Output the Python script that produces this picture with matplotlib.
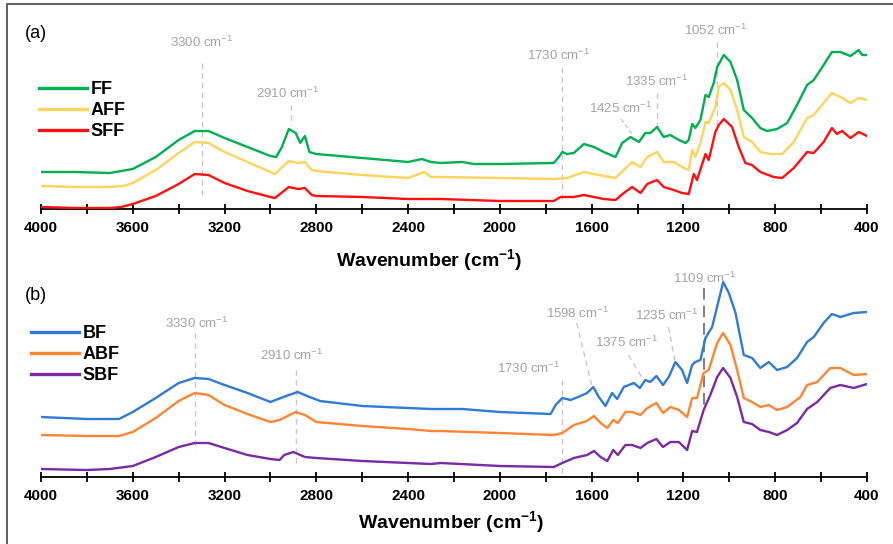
import numpy as np
import matplotlib
matplotlib.use("Agg")
import matplotlib.pyplot as plt
from matplotlib.ticker import MultipleLocator
from matplotlib.patches import Rectangle

plt.rcParams['font.family'] = ['Liberation Sans', 'DejaVu Sans']
plt.rcParams['mathtext.fontset'] = 'custom'
plt.rcParams['mathtext.rm'] = 'Liberation Sans'
plt.rcParams['mathtext.bf'] = 'Liberation Sans:bold'
plt.rcParams['lines.solid_joinstyle'] = 'round'

# ---- panel (a): fibres FF / AFF / SFF (absorbance, a.u., offset) ----
wn_FF = [4000, 3850, 3700, 3600, 3500, 3400, 3330, 3270, 3200, 3100, 3000, 2975, 2950,
         2920, 2890, 2870, 2850, 2830, 2800, 2600, 2400, 2340, 2300, 2258, 2164, 2113,
         2000, 1765, 1743, 1728, 1707, 1678, 1634, 1590, 1547, 1496, 1467, 1431, 1394,
         1366, 1344, 1315, 1286, 1257, 1220, 1191, 1177, 1162, 1148, 1126, 1104, 1090,
         1068, 1053, 1024, 995, 966, 937, 901, 865, 836, 792, 748, 705, 661, 632, 589,
         553, 516, 472, 436, 421, 400]
FF = [0.37, 0.37, 0.36, 0.40, 0.52, 0.69, 0.78, 0.78, 0.71, 0.62, 0.53, 0.52, 0.62,
      0.80, 0.76, 0.66, 0.73, 0.57, 0.55, 0.51, 0.47, 0.50, 0.47, 0.46, 0.47, 0.45,
      0.45, 0.46, 0.52, 0.57, 0.55, 0.56, 0.65, 0.62, 0.57, 0.52, 0.66, 0.72, 0.67,
      0.76, 0.76, 0.82, 0.72, 0.74, 0.69, 0.66, 0.69, 0.85, 0.81, 0.89, 1.14, 1.12,
      1.26, 1.42, 1.54, 1.47, 1.29, 0.99, 0.91, 0.81, 0.78, 0.80, 0.86, 1.04, 1.24,
      1.29, 1.44, 1.57, 1.57, 1.53, 1.59, 1.54, 1.54]

wn_AFF = [4000, 3850, 3700, 3640, 3600, 3500, 3400, 3330, 3270, 3200, 3100, 3000, 2980,
          2920, 2880, 2850, 2820, 2800, 2600, 2400, 2330, 2300, 2258, 2000, 1765, 1707,
          1634, 1547, 1496, 1424, 1387, 1358, 1315, 1286, 1242, 1199, 1177, 1162, 1148,
          1126, 1104, 1090, 1061, 1046, 1024, 995, 966, 937, 901, 865, 821, 770, 719,
          661, 632, 589, 553, 516, 472, 436, 400]
AFF = [0.23, 0.22, 0.22, 0.23, 0.26, 0.39, 0.56, 0.67, 0.66, 0.57, 0.47, 0.37, 0.35,
       0.48, 0.46, 0.47, 0.39, 0.38, 0.34, 0.31, 0.37, 0.32, 0.32, 0.31, 0.30, 0.31,
       0.37, 0.33, 0.31, 0.47, 0.42, 0.52, 0.57, 0.47, 0.47, 0.41, 0.39, 0.59, 0.52,
       0.66, 0.87, 0.86, 1.02, 1.22, 1.26, 1.19, 0.99, 0.72, 0.67, 0.57, 0.55, 0.55,
       0.67, 0.91, 0.94, 1.06, 1.16, 1.12, 1.06, 1.11, 1.09]

wn_SFF = [4000, 3850, 3700, 3650, 3600, 3500, 3400, 3330, 3270, 3200, 3100, 3000, 2980,
          2920, 2880, 2850, 2820, 2800, 2600, 2400, 2300, 2258, 2000, 1765, 1736, 1678,
          1634, 1547, 1496, 1460, 1424, 1387, 1358, 1315, 1286, 1242, 1206, 1177, 1155,
          1141, 1104, 1090, 1061, 1046, 1024, 988, 959, 930, 901, 865, 807, 770, 719,
          661, 632, 589, 553, 531, 509, 472, 436, 400]
SFF = [0.02, 0.01, 0.01, 0.02, 0.05, 0.13, 0.25, 0.35, 0.34, 0.26, 0.18, 0.12, 0.11,
       0.22, 0.20, 0.21, 0.14, 0.13, 0.12, 0.10, 0.10, 0.10, 0.08, 0.08, 0.12, 0.12,
       0.14, 0.10, 0.09, 0.16, 0.22, 0.16, 0.25, 0.29, 0.22, 0.19, 0.16, 0.15, 0.35,
       0.29, 0.55, 0.49, 0.77, 0.84, 0.90, 0.82, 0.62, 0.46, 0.44, 0.37, 0.32, 0.31,
       0.41, 0.57, 0.56, 0.67, 0.81, 0.75, 0.78, 0.71, 0.77, 0.73]

# ---- panel (b): fibres BF / ABF / SBF ----
wn_BF = [4000, 3800, 3660, 3600, 3500, 3400, 3330, 3270, 3200, 3100, 3000, 2944, 2881,
         2840, 2784, 2600, 2400, 2300, 2258, 2164, 2000, 1779, 1757, 1728, 1692, 1649,
         1620, 1593, 1569, 1540, 1511, 1489, 1460, 1438, 1416, 1390, 1366, 1344, 1318,
         1289, 1264, 1235, 1206, 1184, 1162, 1148, 1126, 1104, 1075, 1046, 1027, 1002,
         973, 937, 901, 865, 828, 792, 748, 705, 661, 632, 589, 553, 516, 458, 400]
BF = [0.60, 0.58, 0.58, 0.65, 0.79, 0.94, 0.99, 0.98, 0.92, 0.84, 0.75, 0.80, 0.85,
      0.81, 0.76, 0.71, 0.69, 0.68, 0.68, 0.68, 0.65, 0.63, 0.72, 0.79, 0.77, 0.81,
      0.84, 0.90, 0.80, 0.71, 0.84, 0.78, 0.90, 0.92, 0.94, 0.89, 0.97, 0.95, 1.01,
      0.92, 1.00, 1.15, 1.07, 0.94, 1.12, 1.15, 1.17, 1.39, 1.50, 1.77, 1.95, 1.84,
      1.64, 1.22, 1.19, 1.09, 1.15, 1.07, 1.10, 1.19, 1.35, 1.40, 1.54, 1.63, 1.60,
      1.64, 1.65]

wn_ABF = [4000, 3800, 3660, 3600, 3500, 3400, 3330, 3270, 3200, 3100, 3000, 2960, 2890,
          2850, 2800, 2600, 2400, 2300, 2258, 2000, 1765, 1728, 1678, 1620, 1590, 1561,
          1532, 1506, 1486, 1453, 1424, 1387, 1358, 1318, 1289, 1257, 1220, 1184, 1162,
          1141, 1112, 1090, 1053, 1027, 995, 966, 937, 901, 865, 828, 792, 748, 690,
          661, 617, 560, 516, 458, 400]
ABF = [0.42, 0.41, 0.41, 0.45, 0.59, 0.76, 0.84, 0.82, 0.72, 0.63, 0.55, 0.57, 0.65,
       0.62, 0.55, 0.51, 0.48, 0.46, 0.46, 0.44, 0.42, 0.44, 0.52, 0.56, 0.61, 0.54,
       0.49, 0.57, 0.54, 0.65, 0.65, 0.62, 0.69, 0.74, 0.64, 0.70, 0.67, 0.60, 0.79,
       0.79, 1.04, 1.07, 1.34, 1.44, 1.32, 1.07, 0.79, 0.75, 0.70, 0.72, 0.67, 0.70,
       0.80, 0.92, 0.95, 1.09, 1.09, 1.02, 1.03]

wn_SBF = [4000, 3800, 3700, 3600, 3500, 3400, 3330, 3270, 3200, 3100, 3000, 2960, 2940,
          2900, 2850, 2800, 2600, 2400, 2300, 2258, 2000, 1765, 1728, 1678, 1620, 1590,
          1561, 1532, 1506, 1486, 1453, 1424, 1387, 1358, 1318, 1289, 1257, 1220, 1184,
          1162, 1141, 1112, 1083, 1053, 1027, 995, 966, 937, 901, 865, 828, 792, 748,
          705, 661, 617, 560, 516, 458, 400]
SBF = [0.08, 0.07, 0.08, 0.11, 0.20, 0.30, 0.34, 0.34, 0.29, 0.22, 0.18, 0.17, 0.22,
       0.25, 0.20, 0.19, 0.16, 0.14, 0.13, 0.14, 0.11, 0.10, 0.14, 0.19, 0.22, 0.26,
       0.20, 0.16, 0.27, 0.22, 0.32, 0.32, 0.29, 0.34, 0.38, 0.30, 0.35, 0.35, 0.27,
       0.46, 0.45, 0.67, 0.82, 1.00, 1.09, 0.99, 0.80, 0.55, 0.53, 0.47, 0.45, 0.42,
       0.47, 0.54, 0.68, 0.75, 0.89, 0.92, 0.89, 0.93]

xticks = [4000, 3600, 3200, 2800, 2400, 2000, 1600, 1200, 800, 400]

GRAY_TXT = '#a3a3a3'
GRAY_LN = '#c9c9c9'


def style_axis(ax, label_x, label_y):
    ax.set_xlim(4000, 400)
    ax.set_ylim(0, 2.0)
    for s in ['top', 'left', 'right']:
        ax.spines[s].set_visible(False)
    ax.spines['bottom'].set_linewidth(1.3)
    ax.set_yticks([])
    ax.set_xticks(xticks)
    ax.xaxis.set_minor_locator(MultipleLocator(200))
    ax.tick_params(axis='x', which='both', direction='inout', length=7, width=1.3)
    ax.tick_params(axis='x', which='major', labelsize=11, pad=5)
    for t in ax.get_xticklabels():
        t.set_fontweight('bold')
    ax.set_xlabel(r'Wavenumber (cm$^{\mathbf{-1}}$)', fontsize=14, fontweight='bold')
    ax.xaxis.set_label_coords(label_x, label_y)
    ax.patch.set_alpha(0)


def mark(ax, x, y0, y1, color=GRAY_LN, lw=1.0, dashes=(4, 3)):
    ax.plot([x, x], [y0, y1], color=color, lw=lw, dashes=dashes, zorder=1)


def label(ax, text, x, y, ha='center'):
    ax.text(x, y, text, color=GRAY_TXT, fontsize=9.5, ha=ha, va='center')


def add_legend(ax, x_px, y_px):
    leg = ax.legend(loc='upper left', bbox_to_anchor=(x_px / 893, 1 - y_px / 544),
                    bbox_transform=fig.transFigure, frameon=False, borderpad=0,
                    borderaxespad=0, handlelength=2.65, handletextpad=0.2,
                    labelspacing=0.22, prop={'weight': 'bold', 'size': 13})
    for h in leg.get_lines():
        h.set_linewidth(2.4)


fig = plt.figure(figsize=(8.93, 5.44), dpi=100)
fig.patches.append(Rectangle((7 / 893, -0.05), 1.1, 1 - 4 / 544 + 0.05,
                             transform=fig.transFigure, fill=False,
                             edgecolor='#555555', lw=1.3))

ax1 = fig.add_axes([41 / 893, 1 - 209 / 544, 826 / 893, 200 / 544])
ax2 = fig.add_axes([41 / 893, 1 - 477 / 544, 826 / 893, 200 / 544])

# panel (a)
lw = 1.7
ax1.plot(wn_FF, FF, color='#00b050', lw=lw, label='FF', zorder=3)
ax1.plot(wn_AFF, AFF, color='#ffd35c', lw=lw, label='AFF', zorder=3)
ax1.plot(wn_SFF, SFF, color='#ff1010', lw=lw, label='SFF', zorder=3)
style_axis(ax1, 0.47, -0.19)

mark(ax1, 3300, 1.46, 0.14)
label(ax1, '3300 cm$^{-1}$', 3300, 1.67)
mark(ax1, 2910, 1.04, 0.84)
label(ax1, '2910 cm$^{-1}$', 2925, 1.16)
mark(ax1, 1730, 1.42, 0.06)
label(ax1, '1730 cm$^{-1}$', 1745, 1.54)
mark(ax1, 1315, 1.16, 0.81)
label(ax1, '1335 cm$^{-1}$', 1315, 1.28)
ax1.plot([1472, 1424], [0.90, 0.75], color=GRAY_LN, lw=1.0, dashes=(3, 2), zorder=1)
label(ax1, '1425 cm$^{-1}$', 1476, 1.01)
mark(ax1, 1052, 1.67, 0.79)
label(ax1, '1052 cm$^{-1}$', 1062, 1.79)

add_legend(ax1, 39, 81)
fig.text(36 / 893, 1 - 33 / 544, '(a)', fontsize=13, ha='center', va='center')

# panel (b)
ax2.plot(wn_BF, BF, color='#2f7bd6', lw=lw, label='BF', zorder=3)
ax2.plot(wn_ABF, ABF, color='#ff8534', lw=lw, label='ABF', zorder=3)
ax2.plot(wn_SBF, SBF, color='#7a2aa6', lw=lw, label='SBF', zorder=3)
style_axis(ax2, 0.496, -0.16)

mark(ax2, 3330, 1.44, 0.27)
label(ax2, '3330 cm$^{-1}$', 3320, 1.54)
mark(ax2, 2890, 1.07, 0.10)
label(ax2, '2910 cm$^{-1}$', 2906, 1.22)
mark(ax2, 1730, 0.97, 0.02)
label(ax2, '1730 cm$^{-1}$', 1877, 1.09)
ax2.plot([1665, 1600], [1.54, 0.92], color=GRAY_LN, lw=1.0, dashes=(4, 3), zorder=1)
label(ax2, '1598 cm$^{-1}$', 1664, 1.64)
ax2.plot([1440, 1382], [1.22, 1.00], color=GRAY_LN, lw=1.0, dashes=(4, 3), zorder=1)
label(ax2, '1375 cm$^{-1}$', 1446, 1.35)
ax2.plot([1266, 1237], [1.50, 1.17], color=GRAY_LN, lw=1.0, dashes=(4, 3), zorder=1)
label(ax2, '1235 cm$^{-1}$', 1272, 1.62)
mark(ax2, 1109, 1.89, 0.70, color='#7f7f7f', lw=1.4, dashes=(6, 3))
label(ax2, '1109 cm$^{-1}$', 1106, 1.99)

add_legend(ax2, 31, 325)
fig.text(36 / 893, 1 - 296 / 544, '(b)', fontsize=13, ha='center', va='center')

fig.savefig('out.png', dpi=100)
